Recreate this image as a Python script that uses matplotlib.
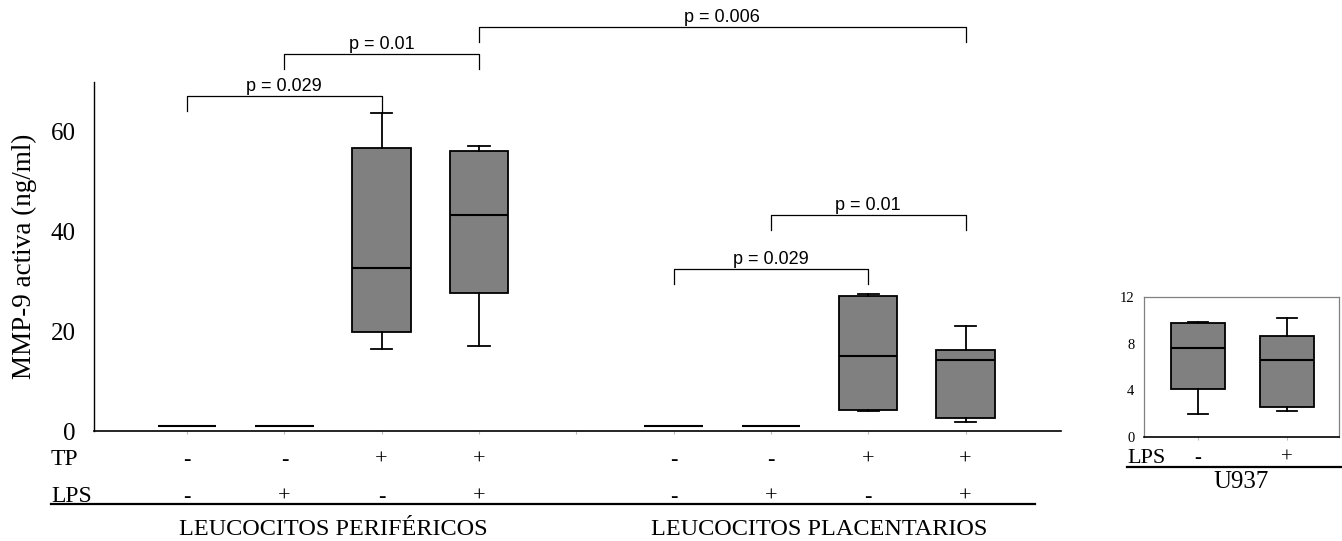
import matplotlib
matplotlib.use("Agg")
import matplotlib.pyplot as plt
from matplotlib.lines import Line2D
from matplotlib.transforms import blended_transform_factory, offset_copy

# ---------------- data ----------------
groups = ["LEUCOCITOS PERIFÉRICOS", "LEUCOCITOS PLACENTARIOS"]
tp_signs = ["-", "-", "+", "+", "-", "-", "+", "+"]
lps_signs = ["-", "+", "-", "+", "-", "+", "-", "+"]
whislo = [1.0, 1.0, 16.4, 17.0, 1.0, 1.0, 4.1, 1.9]
q1 = [1.0, 1.0, 19.9, 27.7, 1.0, 1.0, 4.3, 2.7]
med = [1.0, 1.0, 32.7, 43.4, 1.0, 1.0, 15.0, 14.2]
q3 = [1.0, 1.0, 56.7, 56.1, 1.0, 1.0, 27.1, 16.3]
whishi = [1.0, 1.0, 63.8, 57.1, 1.0, 1.0, 27.5, 21.0]
y_ticks = [0, 20, 40, 60]
y_label = "MMP-9 activa (ng/ml)"

# brackets: (from index, to index, bar height, label)
brackets = [
    (0, 2, 67.2, "p = 0.029"),
    (1, 3, 75.7, "p = 0.01"),
    (3, 7, 81.1, "p = 0.006"),
    (4, 6, 32.5, "p = 0.029"),
    (5, 7, 43.3, "p = 0.01"),
]

u_title = "U937"
u_lps = ["-", "+"]
u_whislo = [1.97, 2.26]
u_q1 = [4.14, 2.57]
u_med = [7.63, 6.63]
u_q3 = [9.77, 8.66]
u_whishi = [9.83, 10.2]
u_ticks = [0, 4, 8, 12]

# ---------------- layout ----------------
W, H = 1342, 541
serif = ["Liberation Serif", "DejaVu Serif"]
sans = ["Liberation Sans", "DejaVu Sans"]
plt.rcParams["font.family"] = serif

fig = plt.figure(figsize=(W / 100, H / 100), dpi=100)


def fy(y):
    return 1 - y / H


def fx(x):
    return x / W


ax = fig.add_axes([fx(94), fy(431), (1061 - 94) / W, (431 - 82) / H])

per_group = 4
positions = [g * (per_group + 1) + i + 1 for g in range(len(groups)) for i in range(per_group)]

box_props = dict(facecolor="#808080", edgecolor="black", linewidth=1.3)
line_props = dict(color="black", linewidth=1.3)


def make_stats(lo, a, m, b, hi):
    return [dict(whislo=l, q1=x1, med=mm, q3=x3, whishi=h, fliers=[])
            for l, x1, mm, x3, h in zip(lo, a, m, b, hi)]


ax.bxp(make_stats(whislo, q1, med, q3, whishi), positions=positions, widths=0.6,
       patch_artist=True, boxprops=box_props, whiskerprops=line_props,
       capprops=line_props, medianprops=dict(color="black", linewidth=1.5),
       capwidths=0.22, showfliers=False, manage_ticks=False)

ax.set_xlim(0.044, 9.98)
ax.set_ylim(0, 70)
ax.set_yticks(y_ticks)
ax.set_yticklabels([str(t) for t in y_ticks], fontsize=18)
ax.tick_params(axis="y", length=0, pad=13)
ax.set_xticks(range(1, 10))
ax.set_xticklabels([])
ax.tick_params(axis="x", length=2.5, width=0.8, color="#bbbbbb", direction="out")
for s in ["top", "right"]:
    ax.spines[s].set_visible(False)
ax.spines["left"].set_linewidth(1.0)
ax.spines["bottom"].set_linewidth(1.2)
ax.set_ylabel(y_label, fontsize=19.5)
ax.yaxis.set_label_coords(-0.059, 0.5)

# brackets
drop = 3.0
txt_tr = offset_copy(ax.transData, fig=fig, y=3.5, units="points")
for i, j, h, lab in brackets:
    x0, x1 = positions[i], positions[j]
    ax.plot([x0, x0, x1, x1], [h - drop, h, h, h - drop], color="black",
            linewidth=0.9, clip_on=False)
    ax.text((x0 + x1) / 2, h, lab, transform=txt_tr, ha="center", va="baseline",
            fontsize=13, family=sans, clip_on=False)

# row labels
bt = blended_transform_factory(ax.transData, fig.transFigure)
fig.text(fx(51), fy(465), "TP", fontsize=17, ha="left", va="baseline")
fig.text(fx(51), fy(502), "LPS", fontsize=17, ha="left", va="baseline")
for p, t, l in zip(positions, tp_signs, lps_signs):
    ax.text(p, fy(465), t, transform=bt, ha="center", va="baseline", fontsize=16)
    ax.text(p, fy(502), l, transform=bt, ha="center", va="baseline", fontsize=16)
fig.add_artist(Line2D([fx(51), fx(1035)], [fy(504), fy(504)], color="black",
                      linewidth=1.6, transform=fig.transFigure))
for g, name in enumerate(groups):
    gp = positions[g * per_group:(g + 1) * per_group]
    ax.text(sum(gp) / len(gp), fy(535), name, transform=bt, ha="center",
            va="baseline", fontsize=17.5)

# ---------------- inset U937 ----------------
ax2 = fig.add_axes([fx(1144), fy(437), (1339 - 1144) / W, (437 - 297) / H])
u_pos = list(range(1, len(u_lps) + 1))
ax2.bxp(make_stats(u_whislo, u_q1, u_med, u_q3, u_whishi), positions=u_pos,
        widths=0.6, patch_artist=True, boxprops=box_props, whiskerprops=line_props,
        capprops=line_props, medianprops=dict(color="black", linewidth=1.5),
        capwidths=0.22, showfliers=False, manage_ticks=False)
ax2.set_xlim(0.392, 2.585)
ax2.set_ylim(0, 12)
ax2.set_yticks(u_ticks)
ax2.set_yticklabels([str(t) for t in u_ticks], fontsize=10.5)
ax2.tick_params(axis="y", length=0, pad=7)
ax2.set_xticks(u_pos)
ax2.set_xticklabels([])
ax2.tick_params(axis="x", length=2, width=0.8, color="#bbbbbb")
for s in ["top", "right", "left"]:
    ax2.spines[s].set_color("#808080")
    ax2.spines[s].set_linewidth(0.9)
ax2.spines["bottom"].set_color("black")
ax2.spines["bottom"].set_linewidth(1.2)

bt2 = blended_transform_factory(ax2.transData, fig.transFigure)
fig.text(fx(1127), fy(463), "LPS", fontsize=16, ha="left", va="baseline")
for p, l in zip(u_pos, u_lps):
    ax2.text(p, fy(463), l, transform=bt2, ha="center", va="baseline", fontsize=15)
fig.add_artist(Line2D([fx(1127), fx(1342)], [fy(467), fy(467)], color="black",
                      linewidth=1.6, transform=fig.transFigure))
bt3 = blended_transform_factory(ax2.transAxes, fig.transFigure)
ax2.text(0.5, fy(488), u_title, transform=bt3, ha="center", va="baseline", fontsize=18)

fig.savefig("out.png", dpi=100)
